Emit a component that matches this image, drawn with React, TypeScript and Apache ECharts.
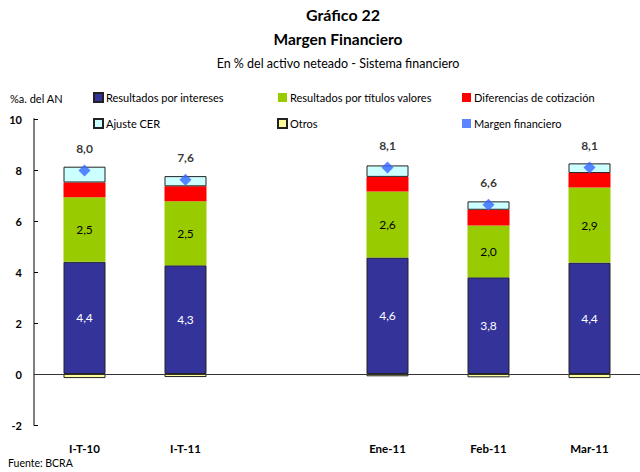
import React, { useEffect, useRef } from "react";
import * as echarts from "echarts";

const categories = ["I-T-10", "I-T-11", "", "Ene-11", "Feb-11", "Mar-11"];
const intereses = [4.4, 4.26, null, 4.57, 3.79, 4.37];
const titulos = [2.53, 2.51, null, 2.59, 2.03, 2.94];
const diferencias = [0.58, 0.59, null, 0.57, 0.62, 0.57];
const ajusteCER = [0.62, 0.4, null, 0.45, 0.33, 0.38];
const otros = [-0.16, -0.12, null, -0.09, -0.13, -0.16];
const margen = [7.98, 7.62, null, 8.1, 6.64, 8.1];
const yTicks = { min: -2, max: 10, interval: 2 };

const FONT = "Lato";
const fmt = (v: number) => v.toFixed(1).replace(".", ",");

export default function App() {
  const ref = useRef<HTMLDivElement>(null);
  useEffect(() => {
    document.body.style.margin = "0";
    const chart = echarts.init(ref.current!, null, { renderer: "svg" });
    const barBase = {
      type: "bar",
      stack: "total",
      barWidth: 42,
    };
    chart.setOption({
      animation: false,
      textStyle: { fontFamily: FONT },
      graphic: [
        { type: "text", x: 343, y: 14, style: { text: "Gráfico 22", font: `bold 16px ${FONT}`, fill: "#000", align: "center", verticalAlign: "middle" } },
        { type: "text", x: 338, y: 39, style: { text: "Margen Financiero", font: `bold 15.5px ${FONT}`, fill: "#000", align: "center", verticalAlign: "middle" } },
        { type: "text", x: 338, y: 63, style: { text: "En % del activo neteado - Sistema financiero", font: `12.5px ${FONT}`, fill: "#000", align: "center", verticalAlign: "middle" } },
        { type: "text", x: 10, y: 98, style: { text: "%a. del AN", font: `11px ${FONT}`, fill: "#000", align: "left", verticalAlign: "middle" } },
        { type: "text", x: 8, y: 463, style: { text: "Fuente: BCRA", font: `10.5px ${FONT}`, fill: "#000", align: "left", verticalAlign: "middle" } },
      ],
      legend: [
        { data: ["Resultados por intereses", "Ajuste CER"], left: 93, top: 92 },
        { data: ["Resultados por títulos valores", "Otros"], left: 277, top: 92 },
        { data: ["Diferencias de cotización", "Margen financiero"], left: 462, top: 92 },
      ].map((l) => ({
        ...l,
        orient: "vertical",
        itemWidth: 9,
        itemHeight: 9,
        itemGap: 15,
        padding: 0,
        icon: "rect",
        textStyle: { fontFamily: FONT, fontSize: 11, color: "#000", padding: [0, 0, 0, -2] },
      })),
      grid: { left: 34, top: 119, width: 613, height: 306 },
      xAxis: {
        type: "category",
        data: categories,
        axisLine: { show: false, onZero: false },
        axisTick: { show: false },
        axisLabel: { fontFamily: FONT, fontWeight: "bold", fontSize: 11.5, color: "#000", margin: 17, interval: 0 },
      },
      yAxis: {
        type: "value",
        min: yTicks.min,
        max: yTicks.max,
        interval: yTicks.interval,
        axisLine: { show: true, lineStyle: { color: "#808080", width: 2 } },
        axisTick: { show: true, inside: true, length: 4, lineStyle: { color: "#000", width: 1 } },
        splitLine: { show: false },
        axisLabel: { fontFamily: FONT, fontWeight: "bold", fontSize: 11, color: "#000", margin: 12 },
      },
      series: [
        {
          ...barBase,
          name: "Resultados por intereses",
          data: intereses,
          itemStyle: { color: "#333399", borderColor: "#222", borderWidth: 1 },
          label: { show: true, position: "inside", color: "#fff", fontFamily: FONT, fontSize: 12, formatter: (p: any) => fmt(p.value) },
          markLine: {
            silent: true,
            symbol: "none",
            label: { show: false },
            lineStyle: { color: "#333", width: 1.2, type: "solid" },
            data: [{ yAxis: 0 }],
          },
        },
        {
          ...barBase,
          name: "Resultados por títulos valores",
          data: titulos,
          itemStyle: { color: "#99CC00" },
          label: { show: true, position: "inside", color: "#000", fontFamily: FONT, fontSize: 12, formatter: (p: any) => fmt(p.value) },
        },
        {
          ...barBase,
          name: "Diferencias de cotización",
          data: diferencias,
          itemStyle: { color: "#FF0000" },
        },
        {
          ...barBase,
          name: "Ajuste CER",
          data: ajusteCER,
          itemStyle: { color: "#CCFFFF", borderColor: "#222", borderWidth: 1 },
        },
        {
          ...barBase,
          name: "Otros",
          data: otros,
          itemStyle: { color: "#FFFF99", borderColor: "#222", borderWidth: 1 },
        },
        {
          type: "scatter",
          name: "Margen financiero",
          data: margen,
          symbol: "diamond",
          symbolSize: 12,
          itemStyle: { color: "#3366FF" },
          z: 5,
          label: {
            show: true,
            position: "top",
            distance: 10,
            color: "#000",
            fontFamily: FONT,
            fontWeight: "bold",
            fontSize: 12,
            formatter: (p: any) => fmt(p.value),
          },
        },
      ],
    });
    return () => chart.dispose();
  }, []);
  return <div ref={ref} style={{ width: 640, height: 472, position: "absolute", left: 0, top: 0 }} />;
}
